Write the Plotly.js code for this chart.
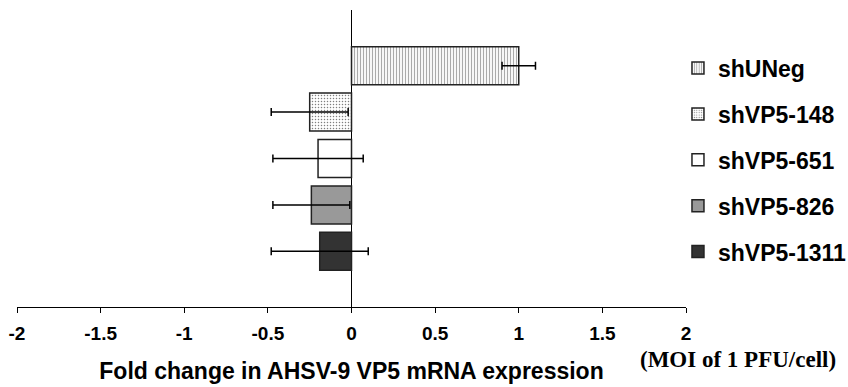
<!DOCTYPE html>
<html>
<head>
<meta charset="utf-8">
<script src="https://cdn.plot.ly/plotly-3.0.1.min.js"></script>
<style>html,body{margin:0;padding:0;background:#fff;}#chart{width:848px;height:387px;}</style>
</head>
<body>
<div id="chart"></div>
<script>
// Data
var categories = ["shUNeg", "shVP5-148", "shVP5-651", "shVP5-826", "shVP5-1311"];
var foldChange = [1.0, -0.25, -0.2, -0.24, -0.19];
var errorValues = [0.1, 0.23, 0.27, 0.23, 0.29];
var xTickValues = [-2, -1.5, -1, -0.5, 0, 0.5, 1, 1.5, 2];
var xTickLabels = ["-2", "-1.5", "-1", "-0.5", "0", "0.5", "1", "1.5", "2"];

// Styles per series
var fills = ["#ffffff", "#ffffff", "#ffffff", "#999999", "#333333"];
var patterns = [
  {shape: "|", fgcolor: "#555555", bgcolor: "#ffffff", size: 3, solidity: 0.4, fillmode: "overlay"},
  {shape: ".", fgcolor: "#000000", bgcolor: "#ffffff", size: 3, solidity: 0.2, fillmode: "overlay"},
  {shape: ""}, {shape: ""}, {shape: ""}
];

var traces = categories.map(function (c, i) {
  return {
    type: "bar",
    orientation: "h",
    name: c,
    legendgroup: c,
    x: [foldChange[i]],
    y: [c],
    width: 0.82,
    marker: {color: fills[i], pattern: patterns[i], line: {color: "#222222", width: 1.5}},
    error_x: {type: "data", array: [errorValues[i]], visible: true, color: "#000000", thickness: 1.5, width: 4}
  };
});

var layout = {
  width: 848, height: 387,
  margin: {l: 17, r: 162, t: 10, b: 80, autoexpand: false},
  paper_bgcolor: "#ffffff", plot_bgcolor: "#ffffff",
  barmode: "overlay",
  showlegend: true,
  legend: {
    x: 0.988, xanchor: "left", y: 0.877, yanchor: "top",
    font: {family: "Liberation Sans, Arial, sans-serif", size: 23, weight: "bold", color: "#000"},
    traceorder: "grouped", tracegroupgap: 13, itemwidth: 30,
    bgcolor: "rgba(0,0,0,0)"
  },
  xaxis: {
    range: [-2, 2],
    tickvals: xTickValues, ticktext: xTickLabels,
    showline: true, linecolor: "#000", linewidth: 1,
    ticks: "outside", ticklen: 5, tickcolor: "#000", tickwidth: 1,
    ticklabelstandoff: 4,
    showgrid: false,
    zeroline: true, zerolinecolor: "#000", zerolinewidth: 1.5,
    tickfont: {family: "Liberation Sans, Arial, sans-serif", size: 19, weight: "bold", color: "#000"},
    title: {text: "Fold change in AHSV-9 VP5 mRNA expression", standoff: 20,
      font: {family: "Liberation Sans, Arial, sans-serif", size: 23, weight: "bold", color: "#000"}}
  },
  yaxis: {
    type: "category", categoryorder: "array", categoryarray: categories,
    range: [5.2, -1.2],
    showticklabels: false, ticks: "", showgrid: false, zeroline: false, showline: false
  },
  annotations: [{
    text: "(MOI of 1 PFU/cell)", xref: "paper", yref: "paper",
    x: 1.078, y: -0.177, xanchor: "center", yanchor: "middle", showarrow: false,
    font: {family: "Liberation Serif, Times New Roman, serif", size: 23, weight: "bold", color: "#000"}
  }]
};

Plotly.newPlot("chart", traces, layout, {displayModeBar: false, staticPlot: true});
</script>
</body>
</html>
